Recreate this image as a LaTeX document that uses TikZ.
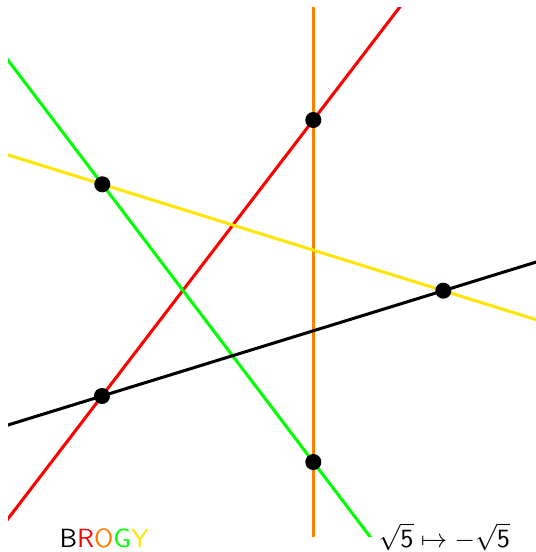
\documentclass[tikz,border=0pt]{standalone}
\usepackage{xcolor}
\usepackage{tikz}
\usetikzlibrary{calc}
\definecolor{lnred}{RGB}{255,0,0}
\definecolor{lnorange}{RGB}{255,128,0}
\definecolor{lngreen}{RGB}{0,255,0}
\definecolor{lnyellow}{RGB}{255,230,0}
\begin{document}
\begin{tikzpicture}[
  x=0.38pt, y=-0.38pt,
  ln/.style    = {line width=1.15pt},
  dot/.style   = {circle, fill=black, inner sep=0pt, minimum size=6.1pt},
  lab/.style   = {font=\sffamily, anchor=base west, inner sep=0pt}
]
\useasboundingbox (0,0) rectangle (536,552);
% the five marked points
\coordinate (pa) at (102,396);
\coordinate (pb) at (313.3,120);
\coordinate (pc) at (102.3,184.3);
\coordinate (pd) at (443.3,290.7);
\coordinate (pe) at (313.3,462);

\begin{scope}
  \clip (8,7) rectangle (536,536);
  \draw[ln, lnred]    ($(pa)!-4!(pb)$) -- ($(pa)!5!(pb)$);
  \draw[ln, lnorange] ($(pb)!-4!(pe)$) -- ($(pb)!5!(pe)$);
  \draw[ln, lngreen]  ($(pc)!-4!(pe)$) -- ($(pc)!5!(pe)$);
  \draw[ln, lnyellow] ($(pc)!-4!(pd)$) -- ($(pc)!5!(pd)$);
  \draw[ln, black]    ($(pa)!-4!(pd)$) -- ($(pa)!5!(pd)$);
\end{scope}

\node[dot] (da) at (pa) {};
\node[dot] (db) at (pb) {};
\node[dot] (dc) at (pc) {};
\node[dot] (dd) at (pd) {};
\node[dot] (de) at (pe) {};

\node[lab] (brogy) at (59,547)
  {B\textcolor{lnred}{R}\textcolor{lnorange}{O}\textcolor{lngreen}{G}\textcolor{lnyellow}{Y}};
\node[lab] (conj) at (378,547)
  {$\sqrt{\mathsf{5}}\mapsto-\sqrt{\mathsf{5}}$};
\end{tikzpicture}
\end{document}
